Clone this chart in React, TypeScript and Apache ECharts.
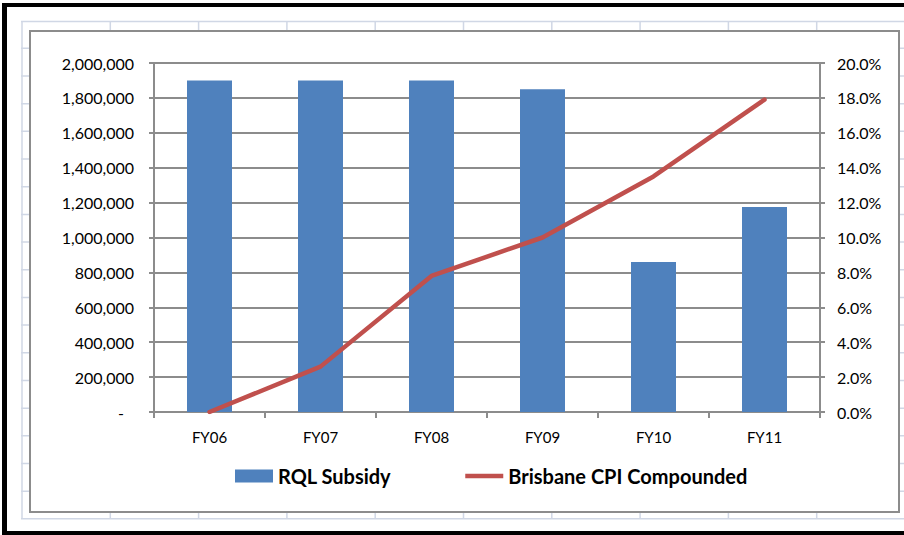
import React, { useEffect, useRef } from "react";
import * as echarts from "echarts";

const categories = ["FY06", "FY07", "FY08", "FY09", "FY10", "FY11"];
const rqlSubsidy = [1900000, 1900000, 1900000, 1850000, 860000, 1175000];
const brisbaneCpi = [0.0, 0.026, 0.078, 0.1, 0.135, 0.179];
const seriesNames = ["RQL Subsidy", "Brisbane CPI Compounded"];

const FONT = "Lato, 'Open Sans', sans-serif";
const SHEET = "#d0d7e5";
const GRAY = "#8c8c8c";

function buildGraphics() {
  const els: any[] = [];
  // spreadsheet column lines
  for (let i = 0; i <= 10; i++) {
    const x = 22 + i * 88.3;
    els.push({
      type: "line",
      z: -10,
      shape: { x1: x, y1: 21.5, x2: x, y2: 519 },
      style: { stroke: SHEET, lineWidth: 1.5 },
    });
  }
  // spreadsheet row lines
  els.push({
    type: "line",
    z: -10,
    shape: { x1: 21, y1: 21.5, x2: 904, y2: 21.5 },
    style: { stroke: SHEET, lineWidth: 1.5 },
  });
  for (let k = 0; k <= 17; k++) {
    const y = 48.3 + k * 27.68;
    els.push({
      type: "line",
      z: -10,
      shape: { x1: 21, y1: y, x2: 904, y2: y },
      style: { stroke: SHEET, lineWidth: 1.5 },
    });
  }
  // chart area
  els.push({
    type: "rect",
    z: -5,
    shape: { x: 30, y: 31, width: 869, height: 481 },
    style: { fill: "#ffffff", stroke: GRAY, lineWidth: 2 },
  });
  // black frame
  els.push({ type: "rect", z: 10, shape: { x: 2, y: 3, width: 902, height: 4 }, style: { fill: "#000" } });
  els.push({ type: "rect", z: 10, shape: { x: 2, y: 3, width: 5, height: 532 }, style: { fill: "#000" } });
  els.push({ type: "rect", z: 10, shape: { x: 2, y: 531, width: 902, height: 4 }, style: { fill: "#000" } });
  return els;
}

export default function App() {
  const ref = useRef<HTMLDivElement>(null);

  useEffect(() => {
    if (!ref.current) return;
    const chart = echarts.init(ref.current, undefined, { renderer: "svg" });
    chart.setOption({
      animation: false,
      backgroundColor: "#ffffff",
      textStyle: { fontFamily: FONT },
      graphic: { elements: buildGraphics() },
      grid: { left: 154, right: 84, top: 63, bottom: 123, containLabel: false },
      legend: {
        left: 230,
        top: 461,
        itemWidth: 38,
        itemHeight: 13,
        itemGap: 74,
        textStyle: { fontFamily: FONT, fontSize: 20, fontWeight: "bold", color: "#000" },
        data: [
          { name: seriesNames[0], icon: "rect" },
          { name: seriesNames[1], icon: "path://M0,0L40,0L40,4.5L0,4.5Z" },
        ],
      },
      xAxis: {
        type: "category",
        data: categories,
        boundaryGap: true,
        axisLine: { show: true, lineStyle: { color: GRAY, width: 2 } },
        axisTick: { show: true, length: 6, interval: 0, lineStyle: { color: GRAY, width: 2 } },
        axisLabel: { color: "#000", fontSize: 15, fontFamily: FONT, margin: 17 },
        splitLine: { show: false },
      },
      yAxis: [
        {
          type: "value",
          min: 0,
          max: 2000000,
          interval: 200000,
          position: "left",
          axisLine: { show: true, lineStyle: { color: GRAY, width: 2 } },
          axisTick: { show: true, length: 5, lineStyle: { color: GRAY, width: 2 } },
          splitLine: { show: true, lineStyle: { color: GRAY, width: 2 } },
          axisLabel: {
            color: "#000",
            fontSize: 16,
            fontFamily: FONT,
            margin: 20,
            formatter: (v: number) => (v === 0 ? "{d|-}" : v.toLocaleString("en-US")),
            rich: { d: { padding: [0, 10, 0, 0], fontSize: 16, color: "#000", fontFamily: FONT } },
          },
        },
        {
          type: "value",
          min: 0,
          max: 0.2,
          interval: 0.02,
          position: "right",
          axisLine: { show: true, lineStyle: { color: GRAY, width: 2 } },
          axisTick: { show: true, length: 5, lineStyle: { color: GRAY, width: 2 } },
          splitLine: { show: false },
          axisLabel: {
            color: "#000",
            fontSize: 16,
            fontFamily: FONT,
            margin: 17,
            formatter: (v: number) => (v * 100).toFixed(1) + "%",
          },
        },
      ],
      series: [
        {
          name: seriesNames[0],
          type: "bar",
          yAxisIndex: 0,
          data: rqlSubsidy,
          barWidth: 45,
          itemStyle: { color: "#4f81bd" },
          z: 2,
        },
        {
          name: seriesNames[1],
          type: "line",
          yAxisIndex: 1,
          data: brisbaneCpi,
          symbol: "none",
          lineStyle: { color: "#c0504d", width: 4.5, join: "round", cap: "round" },
          itemStyle: { color: "#c0504d" },
          z: 3,
        },
      ],
    });
    return () => chart.dispose();
  }, []);

  return (
    <div
      ref={ref}
      style={{ position: "fixed", left: 0, top: 0, width: 904, height: 535, background: "#fff" }}
    />
  );
}
